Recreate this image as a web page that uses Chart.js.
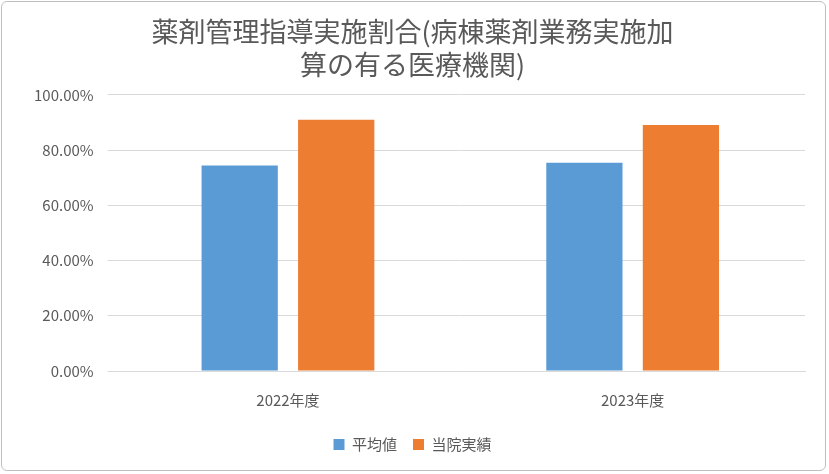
<!DOCTYPE html>
<html><head><meta charset="utf-8">
<script src="https://cdn.jsdelivr.net/npm/chart.js@4"></script>
<style>
html,body{margin:0;padding:0;background:#fff;}
#wrap{position:absolute;left:1px;top:1px;width:825px;height:470px;border:1px solid #bfbfbf;border-radius:6px;box-sizing:border-box;}
canvas{display:block;}
</style></head><body>
<div id="wrap"><canvas id="c" width="823" height="468"></canvas></div>
<script>
const categories = ['2022年度', '2023年度'];
const avgValues = [0.744, 0.754];
const hospValues = [0.910, 0.891];
const seriesNames = ['平均値', '当院実績'];
const titleLines = ['薬剤管理指導実施割合(病棟薬剤業務実施加', '算の有る医療機関)'];

const font = "'Noto Sans CJK JP', 'Noto Sans', sans-serif";
new Chart(document.getElementById('c'), {
  type: 'bar',
  data: {
    labels: categories,
    datasets: [
      {label: seriesNames[0], data: avgValues, backgroundColor: '#5b9bd5', barPercentage: 0.79, categoryPercentage: 0.56},
      {label: seriesNames[1], data: hospValues, backgroundColor: '#ed7d31', barPercentage: 0.79, categoryPercentage: 0.56}
    ]
  },
  options: {
    responsive: false, animation: false,
    layout: {padding: {left: 18, right: 20, top: 6, bottom: 8}},
    plugins: {
      title: {display: true, text: titleLines, color: '#595959', font: {family: font, size: 27, weight: 'normal'}, lineHeight: 1.6, padding: {top: 8, bottom: 14}},
      legend: {position: 'bottom', labels: {color: '#595959', font: {family: font, size: 15}, boxWidth: 11, boxHeight: 11, padding: 16}},
      tooltip: {enabled: false}
    },
    scales: {
      x: {grid: {display: false}, border: {color: '#d9d9d9'}, ticks: {color: '#595959', font: {family: font, size: 15}, padding: 12}},
      y: {min: 0, max: 1, ticks: {stepSize: 0.2, color: '#595959', font: {family: font, size: 15}, padding: 14,
            callback: v => (v * 100).toFixed(2) + '%'},
          grid: {color: '#d9d9d9'}, border: {display: false}}
    }
  }
});
</script>
</body></html>
